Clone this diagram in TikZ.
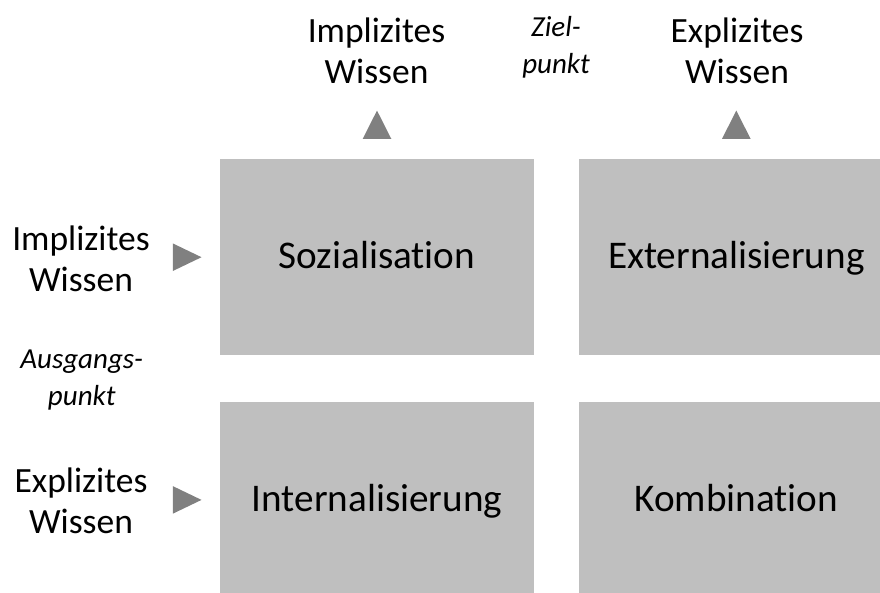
\documentclass[tikz,border=0pt]{standalone}
\usepackage{fontspec}
\setmainfont{Carlito}[Ligatures=NoCommon]
\usetikzlibrary{calc}
\definecolor{boxgray}{RGB}{191,191,191}
\definecolor{tipgray}{RGB}{128,128,128}
\begin{document}
\begin{tikzpicture}[x=1pt,y=-1pt,
  quad/.style={fill=boxgray, minimum width=314.6pt, minimum height=195.7pt,
    inner sep=0pt, text height=23.4pt, text depth=0pt,
    font=\fontsize{39.2}{46}\selectfont},
  axistext/.style={align=center, inner sep=0pt, font=\fontsize{35.5}{41}\selectfont},
  hinttext/.style={align=center, inner sep=0pt, font=\fontsize{29}{37}\selectfont\itshape},
  tip/.style={fill=tipgray}]
\useasboundingbox (0,0) rectangle (880,592);

% the four quadrants of the knowledge spiral
\node[quad] (soz) at (377,257.2) {Sozialisation};
\node[quad] (ext) at (736.3,257.2) {Externalisierung};
\node[quad] (int) at (377,499.9) {Internalisierung};
\node[quad] (kom) at (736.3,499.9) {Kombination};

% target knowledge (columns)
\node[axistext] (colimpl) at (376.5,51) {Implizites\\Wissen};
\node[axistext] (colexpl) at (737,51) {Explizites\\Wissen};
\node[hinttext] (ziel) at (556,47) {Ziel-\\punkt};

% source knowledge (rows)
\node[axistext] (rowimpl) at (81,259) {Implizites\\Wissen};
\node[axistext] (rowexpl) at (81,501) {Explizites\\Wissen};
\node[hinttext] (ausgang) at (81.7,380) {Ausgangs-\\punkt};

% triangular markers above the columns
\foreach \b in {soz,ext}{
  \fill[tip] ($(\b.north)+(-14.3,-20.3)$) -- ($(\b.north)+(14.3,-20.3)$)
    -- ($(\b.north)+(0,-48.6)$) -- cycle;
}
% triangular markers beside the rows
\foreach \b in {soz,int}{
  \fill[tip] ($(\b.west)+(-46.7,-13.8)$) -- ($(\b.west)+(-46.7,13.8)$)
    -- ($(\b.west)+(-18,0)$) -- cycle;
}
\end{tikzpicture}
\end{document}
